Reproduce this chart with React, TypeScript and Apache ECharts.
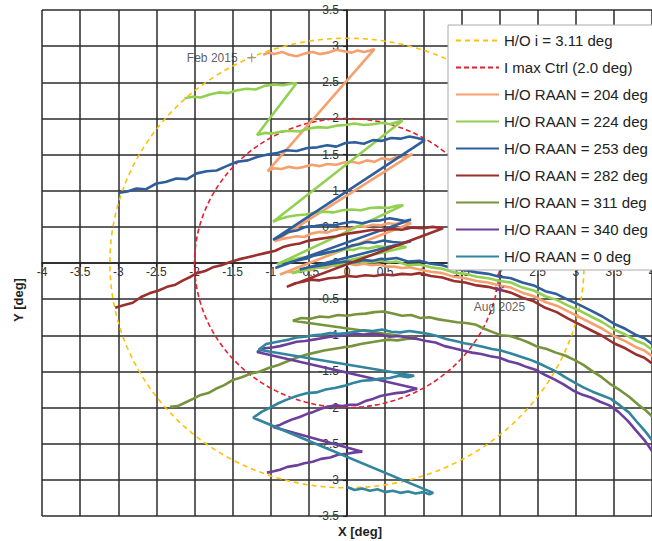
import React, { useEffect, useRef } from 'react';
import * as echarts from 'echarts';

// Axis ranges / ticks
const xRange = [-4, 4];
const yRange = [-3.5, 3.5];
const tickStep = 0.5;

// Reference circles (radius in deg)
const hoInclination = 3.11;
const maxCtrlInclination = 2.0;

const seriesNames = [
  'H/O i = 3.11 deg',
  'I max Ctrl (2.0 deg)',
  'H/O RAAN = 204 deg',
  'H/O RAAN = 224 deg',
  'H/O RAAN = 253 deg',
  'H/O RAAN = 282 deg',
  'H/O RAAN = 311 deg',
  'H/O RAAN = 340 deg',
  'H/O RAAN = 0 deg',
];
const seriesColors = ['#FFC000', '#E3202E', '#F5A06E', '#92D050', '#2F5E9C', '#9A2F2E', '#77933C', '#6C3F9C', '#31859C'];

const raan204 = [
  [-1.10, 2.88], [-1.02, 2.91], [-0.95, 2.89], [-0.85, 2.92], [-0.76, 2.88], [-0.66, 2.86], [-0.55, 2.90], [-0.45, 2.92], [-0.36, 2.89], [-0.25, 2.91], [-0.14, 2.95], [-0.04, 2.93], [0.06, 2.91], [0.14, 2.94], [0.22, 2.92], [0.30, 2.94], [0.36, 2.96],
  [-1.04, 1.27], [-0.96, 1.31], [-0.86, 1.30], [-0.76, 1.33], [-0.66, 1.31], [-0.56, 1.33], [-0.46, 1.36], [-0.36, 1.34], [-0.26, 1.37], [-0.14, 1.36], [-0.04, 1.39], [0.06, 1.40], [0.16, 1.38], [0.26, 1.42], [0.36, 1.40], [0.46, 1.45], [0.56, 1.43], [0.66, 1.47], [0.76, 1.46], [0.86, 1.51],
  [-0.95, 0.30], [-0.86, 0.33], [-0.76, 0.35], [-0.66, 0.37], [-0.56, 0.36], [-0.46, 0.41], [-0.36, 0.43], [-0.26, 0.42], [-0.16, 0.46], [-0.06, 0.48], [0.04, 0.47], [0.14, 0.51], [0.24, 0.50], [0.34, 0.53], [0.44, 0.52], [0.54, 0.55], [0.64, 0.54], [0.74, 0.57], [0.84, 0.55],
  [-0.88, -0.16], [-0.78, -0.12], [-0.68, -0.13], [-0.58, -0.09], [-0.48, -0.10], [-0.38, -0.06], [-0.28, -0.07], [-0.18, -0.03], [-0.08, -0.04], [0.02, -0.01], [0.12, -0.03], [0.22, -0.01], [0.32, -0.03], [0.42, -0.02], [0.52, -0.05],
  [0.62, -0.05], [0.72, -0.07], [0.82, -0.06], [0.95, -0.09], [1.10, -0.12], [1.25, -0.14], [1.40, -0.19], [1.55, -0.21], [1.70, -0.25], [1.85, -0.27], [2.00, -0.31], [2.15, -0.34], [2.30, -0.41], [2.45, -0.46], [2.60, -0.54], [2.75, -0.59], [2.90, -0.67], [3.05, -0.75], [3.20, -0.83], [3.35, -0.91], [3.50, -1.01], [3.65, -1.08], [3.80, -1.17], [3.90, -1.21], [4.00, -1.29],
];

const raan224 = [
  [-2.13, 2.28], [-2.02, 2.30], [-1.92, 2.29], [-1.80, 2.33], [-1.68, 2.36], [-1.56, 2.35], [-1.44, 2.39], [-1.32, 2.41], [-1.20, 2.40], [-1.08, 2.45], [-0.96, 2.47], [-0.84, 2.46], [-0.74, 2.48], [-0.66, 2.49],
  [-1.18, 1.77], [-1.08, 1.80], [-0.98, 1.79], [-0.86, 1.82], [-0.74, 1.83], [-0.62, 1.82], [-0.50, 1.86], [-0.38, 1.88], [-0.26, 1.87], [-0.14, 1.90], [-0.02, 1.91], [0.10, 1.93], [0.22, 1.91], [0.34, 1.92], [0.46, 1.94], [0.56, 1.92], [0.66, 1.95], [0.73, 1.97],
  [-0.97, 0.57], [-0.88, 0.61], [-0.78, 0.64], [-0.66, 0.66], [-0.54, 0.67], [-0.42, 0.70], [-0.30, 0.71], [-0.18, 0.70], [-0.06, 0.73], [0.06, 0.74], [0.18, 0.73], [0.30, 0.76], [0.42, 0.77], [0.54, 0.76], [0.64, 0.79], [0.74, 0.80],
  [-0.92, -0.02], [-0.82, 0.02], [-0.72, 0.04], [-0.62, 0.07], [-0.52, 0.08], [-0.42, 0.11], [-0.32, 0.12], [-0.22, 0.15], [-0.12, 0.16], [-0.02, 0.19], [0.08, 0.18], [0.18, 0.21], [0.28, 0.20], [0.40, 0.23], [0.52, 0.22], [0.64, 0.24], [0.78, 0.22],
  [-0.72, -0.14], [-0.62, -0.10], [-0.52, -0.08], [-0.42, -0.05], [-0.32, -0.06], [-0.22, -0.02], [-0.12, -0.03], [-0.02, 0.00], [0.08, -0.01], [0.20, 0.02], [0.32, 0.01], [0.44, 0.03],
  [0.55, 0.01], [0.65, 0.02], [0.80, -0.03], [0.95, -0.02], [1.10, -0.06], [1.25, -0.08], [1.40, -0.13], [1.55, -0.15], [1.70, -0.19], [1.85, -0.21], [2.00, -0.25], [2.15, -0.27], [2.30, -0.34], [2.45, -0.38], [2.60, -0.46], [2.75, -0.51], [2.90, -0.59], [3.05, -0.66], [3.20, -0.74], [3.35, -0.82], [3.50, -0.92], [3.65, -0.99], [3.80, -1.08], [3.90, -1.12], [4.00, -1.20],
];

const raan253 = [
  [-3.00, 0.97], [-2.88, 0.99], [-2.76, 1.03], [-2.64, 1.02], [-2.50, 1.10], [-2.38, 1.12], [-2.24, 1.17], [-2.10, 1.16], [-1.97, 1.24], [-1.84, 1.27], [-1.71, 1.28], [-1.58, 1.34], [-1.44, 1.40], [-1.30, 1.42], [-1.17, 1.47], [-1.04, 1.50], [-0.92, 1.52], [-0.80, 1.56], [-0.66, 1.55], [-0.52, 1.59], [-0.39, 1.60], [-0.26, 1.63], [-0.14, 1.61], [-0.02, 1.66], [0.10, 1.67], [0.22, 1.65], [0.34, 1.70], [0.46, 1.69], [0.58, 1.73], [0.70, 1.72], [0.82, 1.75], [0.92, 1.73], [1.02, 1.70],
  [-0.97, 0.32], [-0.87, 0.37], [-0.77, 0.43], [-0.66, 0.45], [-0.54, 0.50], [-0.42, 0.51], [-0.30, 0.53], [-0.18, 0.52], [-0.05, 0.55], [0.07, 0.57], [0.20, 0.55], [0.32, 0.58], [0.44, 0.59], [0.56, 0.62], [0.66, 0.60], [0.76, 0.58], [0.84, 0.60],
  [-0.94, -0.07], [-0.84, -0.03], [-0.74, 0.01], [-0.64, 0.04], [-0.54, 0.06], [-0.44, 0.10], [-0.34, 0.12], [-0.24, 0.15], [-0.14, 0.17], [-0.04, 0.20], [0.06, 0.24], [0.16, 0.26], [0.26, 0.29], [0.36, 0.28], [0.48, 0.31], [0.60, 0.29], [0.72, 0.28], [0.84, 0.30],
  [-0.62, -0.09], [-0.50, -0.06], [-0.38, -0.04], [-0.26, -0.02], [-0.14, 0.00], [-0.02, 0.02], [0.10, 0.01], [0.22, 0.04], [0.34, 0.03], [0.45, 0.06],
  [0.50, 0.05], [0.65, 0.07], [0.80, 0.02], [0.95, 0.03], [1.10, -0.01], [1.25, -0.03], [1.40, -0.08], [1.55, -0.10], [1.70, -0.13], [1.85, -0.15], [2.00, -0.19], [2.15, -0.21], [2.30, -0.27], [2.45, -0.31], [2.60, -0.39], [2.75, -0.43], [2.90, -0.51], [3.05, -0.58], [3.20, -0.66], [3.35, -0.74], [3.50, -0.84], [3.65, -0.91], [3.80, -1.00], [3.90, -1.04], [4.00, -1.12],
];

const raan282 = [
  [-3.04, -0.62], [-2.92, -0.58], [-2.81, -0.55], [-2.70, -0.47], [-2.59, -0.42], [-2.47, -0.38], [-2.36, -0.33], [-2.25, -0.30], [-2.15, -0.24], [-2.05, -0.19], [-1.97, -0.14], [-1.86, -0.11], [-1.76, -0.06], [-1.65, -0.03], [-1.54, 0.01], [-1.42, 0.05], [-1.30, 0.08], [-1.18, 0.11], [-1.06, 0.14], [-0.94, 0.17], [-0.84, 0.22], [-0.74, 0.25], [-0.62, 0.27], [-0.50, 0.31], [-0.38, 0.33], [-0.26, 0.35], [-0.14, 0.37], [-0.02, 0.40], [0.10, 0.42], [0.22, 0.44], [0.34, 0.46], [0.46, 0.45], [0.58, 0.47], [0.72, 0.46], [0.86, 0.49], [1.00, 0.48], [1.12, 0.50], [1.26, 0.48],
  [-0.79, -0.33], [-0.68, -0.28], [-0.58, -0.26], [-0.48, -0.23], [-0.36, -0.24], [-0.24, -0.21], [-0.12, -0.20], [0.00, -0.18], [0.12, -0.19], [0.24, -0.17], [0.36, -0.18], [0.48, -0.16], [0.60, -0.17], [0.72, -0.15], [0.84, -0.16],
  [0.95, -0.14], [1.10, -0.18], [1.25, -0.20], [1.40, -0.25], [1.55, -0.27], [1.70, -0.31], [1.85, -0.33], [2.00, -0.37], [2.15, -0.41], [2.30, -0.48], [2.45, -0.53], [2.60, -0.62], [2.75, -0.68], [2.90, -0.77], [3.05, -0.85], [3.20, -0.93], [3.35, -1.01], [3.50, -1.11], [3.65, -1.18], [3.80, -1.27], [3.90, -1.31], [4.00, -1.39],
];

const raan311 = [
  [-2.32, -1.99], [-2.22, -1.98], [-2.12, -1.93], [-2.02, -1.88], [-1.93, -1.83], [-1.82, -1.80], [-1.72, -1.74], [-1.61, -1.69], [-1.50, -1.62], [-1.38, -1.58], [-1.26, -1.53], [-1.14, -1.50], [-1.02, -1.45], [-0.90, -1.41], [-0.78, -1.36], [-0.66, -1.31], [-0.54, -1.27], [-0.42, -1.24], [-0.30, -1.21], [-0.18, -1.19], [-0.06, -1.17], [0.06, -1.15], [0.18, -1.12], [0.30, -1.10], [0.42, -1.08], [0.54, -1.06], [0.66, -1.07], [0.78, -1.05], [0.92, -1.04],
  [-0.71, -0.80], [-0.60, -0.76], [-0.48, -0.77], [-0.36, -0.74], [-0.24, -0.75], [-0.12, -0.72], [0.00, -0.73], [0.12, -0.71], [0.24, -0.70], [0.36, -0.68], [0.48, -0.67], [0.60, -0.70], [0.72, -0.73], [0.84, -0.72], [0.96, -0.76], [1.08, -0.75], [1.20, -0.78], [1.32, -0.80], [1.44, -0.82], [1.56, -0.83], [1.68, -0.85], [1.80, -0.91], [1.92, -0.96], [2.02, -1.00], [2.14, -1.01], [2.26, -1.05], [2.38, -1.10], [2.50, -1.16], [2.62, -1.19], [2.74, -1.24], [2.86, -1.28], [2.98, -1.34], [3.10, -1.41], [3.22, -1.50], [3.34, -1.58], [3.46, -1.68], [3.58, -1.76], [3.70, -1.85], [3.82, -1.96], [3.92, -2.04], [4.00, -2.12],
];

const raan340 = [
  [-1.05, -2.90], [-0.96, -2.88], [-0.88, -2.86], [-0.78, -2.82], [-0.66, -2.80], [-0.56, -2.77], [-0.45, -2.75], [-0.34, -2.71], [-0.22, -2.69], [-0.11, -2.65], [0.00, -2.64], [0.10, -2.62], [0.20, -2.61],
  [-0.97, -2.27], [-0.88, -2.24], [-0.80, -2.20], [-0.71, -2.16], [-0.62, -2.13], [-0.53, -2.09], [-0.44, -2.06], [-0.35, -2.02], [-0.26, -1.99], [-0.16, -1.97], [-0.06, -1.98], [0.04, -1.96], [0.14, -1.96], [0.24, -1.91], [0.34, -1.88], [0.44, -1.84], [0.54, -1.82], [0.64, -1.80], [0.74, -1.79], [0.84, -1.76], [0.92, -1.74],
  [-1.18, -1.23], [-1.08, -1.18], [-0.98, -1.17], [-0.88, -1.15], [-0.77, -1.12], [-0.66, -1.09], [-0.55, -1.08], [-0.44, -1.06], [-0.33, -1.04], [-0.22, -1.02], [-0.11, -1.01], [0.00, -1.00], [0.11, -0.98], [0.22, -0.99], [0.33, -0.98], [0.44, -0.99], [0.56, -1.02], [0.68, -1.01], [0.80, -1.03], [0.92, -1.05], [1.04, -1.08], [1.16, -1.10], [1.28, -1.15], [1.40, -1.18], [1.52, -1.21], [1.64, -1.24], [1.76, -1.26], [1.88, -1.29], [2.00, -1.31], [2.12, -1.36], [2.24, -1.39], [2.36, -1.44], [2.48, -1.48], [2.60, -1.55], [2.72, -1.61], [2.84, -1.68], [2.96, -1.76], [3.08, -1.82], [3.20, -1.86], [3.32, -1.92], [3.44, -1.97], [3.56, -2.06], [3.68, -2.18], [3.80, -2.33], [3.90, -2.45], [4.00, -2.60],
];

const raan0 = [
  [0.00, -3.10], [0.10, -3.14], [0.20, -3.12], [0.30, -3.15], [0.40, -3.13], [0.50, -3.17], [0.60, -3.15], [0.70, -3.18], [0.80, -3.16], [0.90, -3.19], [1.00, -3.17], [1.08, -3.20], [1.13, -3.18],
  [-1.23, -2.14], [-1.12, -2.06], [-1.01, -2.00], [-0.90, -1.94], [-0.79, -1.89], [-0.66, -1.84], [-0.52, -1.80], [-0.40, -1.79], [-0.28, -1.75], [-0.16, -1.73], [-0.04, -1.70], [0.08, -1.66], [0.20, -1.63], [0.32, -1.62], [0.44, -1.60], [0.56, -1.59], [0.68, -1.56], [0.80, -1.58], [0.88, -1.56],
  [-1.16, -1.20], [-1.06, -1.12], [-0.96, -1.10], [-0.86, -1.08], [-0.76, -1.06], [-0.66, -1.03], [-0.55, -1.02], [-0.44, -1.00], [-0.33, -0.99], [-0.22, -0.97], [-0.11, -0.98], [0.00, -0.97], [0.11, -0.95], [0.22, -0.93], [0.34, -0.94], [0.46, -0.92], [0.58, -0.95], [0.70, -0.96], [0.82, -0.94], [0.94, -0.96], [1.06, -0.98], [1.18, -1.01], [1.30, -1.05], [1.42, -1.08], [1.54, -1.11], [1.66, -1.13], [1.78, -1.16], [1.90, -1.19], [2.02, -1.21], [2.14, -1.25], [2.26, -1.29], [2.38, -1.33], [2.50, -1.38], [2.62, -1.44], [2.74, -1.50], [2.86, -1.58], [2.98, -1.65], [3.10, -1.72], [3.22, -1.78], [3.34, -1.83], [3.46, -1.88], [3.58, -1.97], [3.70, -2.07], [3.82, -2.22], [3.92, -2.34], [4.00, -2.45],
];

// Annotated dates
const febPoint = [-1.25, 2.84];
const augPoint = [2.0, -0.36];
const febLabel = 'Feb 2015';
const augLabel = 'Aug 2025';

const FONT = '"Liberation Sans", Arial, sans-serif';

// plot box (px)
const GRID = { left: 42, right: 0, top: 10, bottom: 25, width: 610, height: 506 };

function circlePoints(r: number) {
  const pts: number[][] = [];
  for (let a = 0; a <= 360; a += 2) {
    const t = (a * Math.PI) / 180;
    pts.push([r * Math.cos(t), r * Math.sin(t)]);
  }
  return pts;
}

function buildOption() {
  const trajectories = [raan204, raan224, raan253, raan282, raan311, raan340, raan0];
  const series: any[] = [
    {
      name: seriesNames[0], type: 'line', data: circlePoints(hoInclination), showSymbol: false, symbol: 'none',
      lineStyle: { color: seriesColors[0], width: 1.6, type: [5, 4] }, itemStyle: { color: seriesColors[0] }, z: 2,
    },
    {
      name: seriesNames[1], type: 'line', data: circlePoints(maxCtrlInclination), showSymbol: false, symbol: 'none',
      lineStyle: { color: seriesColors[1], width: 1.6, type: [5, 3] }, itemStyle: { color: seriesColors[1] }, z: 2,
    },
  ];
  trajectories.forEach((d, i) => {
    series.push({
      name: seriesNames[i + 2], type: 'line', data: d, showSymbol: false, symbol: 'none',
      lineStyle: { color: seriesColors[i + 2], width: 2.6 }, itemStyle: { color: seriesColors[i + 2] }, z: 3,
    });
  });
  series.push({
    name: 'febMarker', type: 'scatter', data: [febPoint],
    symbol: 'path://M5,0L5,10M0,5L10,5', symbolSize: 9,
    itemStyle: { color: 'transparent', borderColor: '#888', borderWidth: 1.2 },
    label: { show: true, position: 'left', distance: 9, formatter: febLabel, color: '#333', fontSize: 12, fontFamily: FONT },
    z: 6,
  });
  series.push({
    name: 'augMarker', type: 'scatter', data: [augPoint],
    symbol: 'path://M5,0L5,10M0,2.5L10,7.5M0,7.5L10,2.5', symbolSize: 9,
    itemStyle: { color: 'transparent', borderColor: '#6C3F9C', borderWidth: 1.4 },
    label: { show: true, position: 'bottom', distance: 7, formatter: augLabel, color: '#333', fontSize: 12, fontFamily: FONT },
    z: 6,
  });

  // shift the axes so that they cross at (0, 0)
  const xZeroOffset = -GRID.height * (0 - yRange[0]) / (yRange[1] - yRange[0]);
  const yZeroOffset = -GRID.width * (0 - xRange[0]) / (xRange[1] - xRange[0]);

  const axisCommon = {
    type: 'value',
    interval: tickStep,
    axisLine: { show: true, onZero: false, lineStyle: { color: '#222', width: 1.5 } },
    axisTick: { show: true, length: 4, lineStyle: { color: '#222', width: 1.2 } },
    splitLine: { show: true, lineStyle: { color: '#2b2b2b', width: 1.5 } },
  };

  return {
    animation: false,
    backgroundColor: '#fff',
    grid: { left: GRID.left, right: GRID.right, top: GRID.top, bottom: GRID.bottom, outerBoundsMode: 'none' },
    xAxis: {
      ...axisCommon, min: xRange[0], max: xRange[1], position: 'bottom', offset: xZeroOffset,
      axisLabel: { color: '#333', fontSize: 12, fontFamily: FONT, margin: 3 },
    },
    yAxis: {
      ...axisCommon, min: yRange[0], max: yRange[1], position: 'left', offset: yZeroOffset,
      axisLabel: { color: '#333', fontSize: 12, fontFamily: FONT, margin: 8 },
    },
    legend: {
      data: seriesNames,
      orient: 'vertical',
      left: 448,
      top: 25,
      padding: [8, 8, 6, 7],
      itemWidth: 43,
      itemHeight: 14,
      itemGap: 12,
      backgroundColor: '#fff',
      borderColor: '#aaa',
      borderWidth: 1,
      itemStyle: { opacity: 0 },
      textStyle: { fontSize: 15, color: '#222', fontFamily: FONT },
      z: 10,
    },
    graphic: [
      {
        type: 'text', x: 18, y: 300, rotation: Math.PI / 2,
        style: { text: 'Y [deg]', font: `bold 13px ${FONT}`, fill: '#222', align: 'center', verticalAlign: 'middle' },
      },
      {
        type: 'text', x: 360, y: 531,
        style: { text: 'X [deg]', font: `bold 13px ${FONT}`, fill: '#222', align: 'center', verticalAlign: 'middle' },
      },
    ],
    series,
  };
}

export default function App() {
  const ref = useRef<HTMLDivElement>(null);
  useEffect(() => {
    if (!ref.current) return;
    const chart = echarts.init(ref.current, null, { renderer: 'svg' });
    chart.setOption(buildOption() as any);
    return () => chart.dispose();
  }, []);
  return (
    <div
      ref={ref}
      style={{ position: 'fixed', left: 0, top: 0, width: 652, height: 541, background: '#fff' }}
    />
  );
}
